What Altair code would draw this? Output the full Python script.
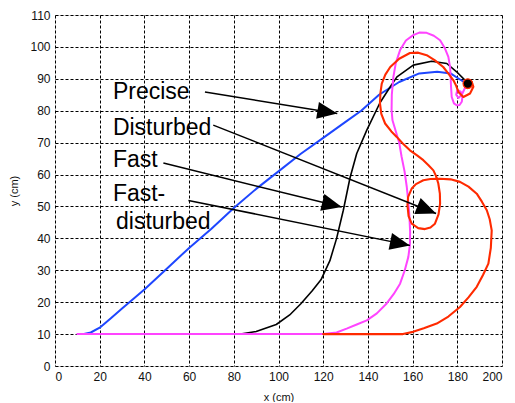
import math
import altair as alt
import pandas as pd

# ---------------- data ----------------
precise_x = [13, 16, 20, 25, 30, 35, 40, 50, 60, 70, 80, 90, 100, 110, 120, 130, 137, 145, 154, 163, 171, 177, 180.5, 183, 184.5]
precise_y = [10, 10.5, 12, 15, 18, 21, 24, 30.5, 37, 43, 49.5, 55.5, 61, 66.5, 71.5, 76.5, 80, 85, 89, 91.7, 92.2, 91.7, 90.1, 89, 88.5]

fast_x = [83, 90, 99, 105, 110, 115, 119, 123, 126, 129, 132, 135, 139.5, 145.4, 150, 153, 160.3, 168.5, 175.3, 179.7, 183.4, 185.5, 186, 184.5, 183.5, 185]
fast_y = [10, 10.8, 13, 16, 19.5, 23.5, 27, 33, 40, 48.8, 59, 66.6, 73.9, 82.5, 87.5, 90.6, 94.3, 95.5, 94.8, 92.2, 89.6, 88.5, 87.5, 87, 88.5, 89.5]

disturbed_x = [120, 140, 155.7, 160.2, 165, 170.8, 176, 181.2, 185, 188.7, 191.5, 193.9, 195, 195.4, 194.5, 193.2, 191, 188.7, 185, 181.2, 177, 172.3, 168, 164.8, 161.5, 159.6, 158, 157.7, 158.2, 159.6, 162.5, 165.5, 168, 170, 171.6, 172.3, 172.2, 171.5, 170.5, 169.3, 167, 164.8, 162, 158.8, 155.5, 152.9, 150.5, 147.7, 146, 145.4, 145.6, 146.2, 147.8, 150, 154, 158.8, 162.5, 166.3, 170, 173.7, 176.2, 178.2, 179.5, 180.5, 182.7, 185.7, 187.2, 186.5, 185]
disturbed_y = [10, 10, 10, 10.7, 11.8, 13.3, 15.5, 18.5, 21.5, 24.8, 28.5, 32.1, 37, 42.5, 46, 48.8, 51.5, 54, 56.2, 57.7, 58.5, 58.7, 58.6, 58.2, 57, 55.6, 53, 50.4, 47, 44.6, 43.2, 42.9, 43.4, 44.6, 47.5, 50.9, 54, 57.2, 59.5, 61.3, 63, 64.5, 66, 67.6, 69.8, 71.8, 73.5, 76, 79, 82.3, 85.5, 88.5, 91.3, 93.7, 96.3, 98.1, 98.2, 97.4, 95.8, 93.7, 91.5, 89.6, 87.8, 85.9, 84.3, 85.4, 87.5, 89, 89.5]

fastdist_x = [10, 60, 120, 126, 130.5, 135, 139.5, 144, 148.4, 151.5, 154.4, 156.5, 158.1, 158.8, 158.9, 158.5, 158, 157.4, 156.4, 155.1, 154, 152.5, 151, 150.6, 150.7, 151.4, 152.5, 154.4, 157, 160.3, 163, 166.3, 169.5, 172.3, 174.5, 176, 176.8, 177, 177.2, 177.5, 178.5, 179.7, 181, 182, 182.3, 181.5, 180, 179.5, 180.5, 182, 183, 184]
fastdist_y = [10, 10, 10, 10.5, 11.7, 13, 14.3, 16.5, 19.6, 22.5, 25.8, 30, 34.2, 38, 42, 47.8, 52, 56.1, 61, 65.5, 70, 73.5, 77, 80.2, 85, 90.6, 95, 99, 102, 103.7, 104.5, 104.4, 103.5, 102.1, 99.5, 96.9, 93.5, 90.6, 87.5, 84.3, 82.3, 81.7, 81.8, 82.8, 84.5, 86, 86.5, 85, 84, 85, 86.5, 88]

target_x = [184.7]
target_y = [88.5]

label_text = ["Precise", "Disturbed", "Fast", "Fast-", "disturbed"]
label_x = [25.9, 25.9, 25.9, 25.9, 27.3]
label_y = [85.9, 74.7, 64.7, 53.8, 45.1]

arrow_x1 = [67.1, 70.8, 48.5, 59.7]
arrow_y1 = [85.9, 75.5, 63.6, 51.9]
arrow_x2 = [126.3, 170.5, 128.3, 158.8]
arrow_y2 = [79.1, 47.8, 49.8, 37.8]

# ---------------- layout ----------------
W, H = 447, 351
XMAX, YMAX = 200, 110
sx, sy = W / XMAX, H / YMAX

def series_df(xs, ys):
    return pd.DataFrame({"i": list(range(len(xs))), "x": xs, "y": ys})

arrows = pd.DataFrame({"x": arrow_x1, "y": arrow_y1, "x2": arrow_x2, "y2": arrow_y2})
arrows["angle"] = [
    math.degrees(math.atan2((b - a) * sx, (d - c) * sy)) % 360
    for a, b, c, d in zip(arrow_x1, arrow_x2, arrow_y1, arrow_y2)
]
labels = pd.DataFrame({"t": label_text, "x": label_x, "y": label_y})
target = pd.DataFrame({"x": target_x, "y": target_y})

xscale = alt.Scale(domain=[0, XMAX], nice=False, zero=False)
yscale = alt.Scale(domain=[0, YMAX], nice=False, zero=False)
FONT = "Liberation Sans"
xaxis = alt.Axis(values=list(range(0, 201, 20)), title="x (cm)", grid=True,
                 gridDash=[3, 2], gridColor="#000000", gridOpacity=1, gridWidth=1,
                 domain=False, ticks=False, labelFont=FONT, labelFontSize=12,
                 labelColor="#111111", labelPadding=5, titleFont=FONT, titleFontSize=11,
                 titleFontWeight="normal", titleColor="#111111", titlePadding=9)
yaxis = alt.Axis(values=list(range(0, 111, 10)), title="y (cm)", grid=True,
                 gridDash=[3, 2], gridColor="#000000", gridOpacity=1, gridWidth=1,
                 domain=False, ticks=False, labelFont=FONT, labelFontSize=12,
                 labelColor="#111111", labelPadding=5, titleFont=FONT, titleFontSize=11,
                 titleFontWeight="normal", titleColor="#111111", titlePadding=10)

X = alt.X("x:Q", scale=xscale, axis=xaxis)
Y = alt.Y("y:Q", scale=yscale, axis=yaxis)

def line(xs, ys, color, width=1.8):
    return alt.Chart(series_df(xs, ys)).mark_line(
        color=color, strokeWidth=width, strokeJoin="round", strokeCap="round"
    ).encode(x=X, y=Y, order="i:Q")

blue = line(precise_x, precise_y, "#1e46ff", 2)
black = line(fast_x, fast_y, "#000000", 1.6)
magenta = line(fastdist_x, fastdist_y, "#ff44ff", 2)
red = line(disturbed_x, disturbed_y, "#ff2a00", 2.1)

dot = alt.Chart(target).mark_point(
    filled=True, color="#000000", size=90, stroke="#ff2a00", strokeWidth=1.2, opacity=1
).encode(x=X, y=Y)

rules = alt.Chart(arrows).mark_rule(color="#000000", strokeWidth=1.5).encode(
    x=X, y=Y, x2="x2:Q", y2="y2:Q")

heads = alt.Chart(arrows).mark_point(
    shape="M0,0 L-0.43,1 L0.43,1 Z", filled=True, color="#000000", size=1600, opacity=1
).encode(x=alt.X("x2:Q", scale=xscale, axis=xaxis), y=alt.Y("y2:Q", scale=yscale, axis=yaxis),
         angle=alt.Angle("angle:Q", scale=None))

texts = alt.Chart(labels).mark_text(
    align="left", baseline="middle", font=FONT, fontSize=23, color="#000000"
).encode(x=X, y=Y, text="t:N")

chart = alt.layer(blue, black, magenta, red, dot, rules, heads, texts).properties(
    width=W, height=H,
    autosize=alt.AutoSizeParams(type="none"),
    padding={"left": 47, "top": 7, "right": 5, "bottom": 36},
).configure_view(stroke="#000000", strokeWidth=1).configure(background="#ffffff")

chart.save("out.html", embed_options={"renderer": "svg", "actions": False})
